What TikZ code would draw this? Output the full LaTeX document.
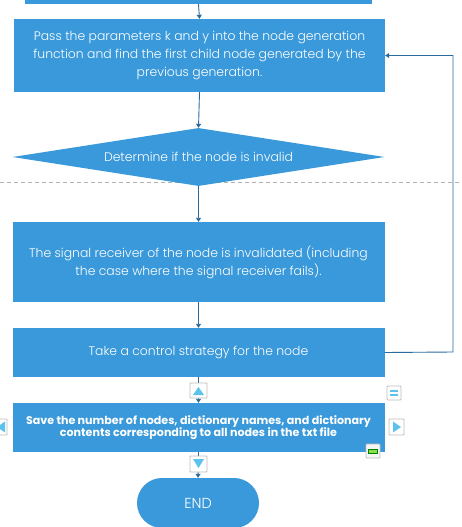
\documentclass[tikz,border=0pt]{standalone}
\usepackage{fontspec}
\setmainfont{Poppins}[UprightFont=* Light, BoldFont=* Bold]
\usetikzlibrary{arrows.meta,shapes.geometric,shapes.misc}
\definecolor{boxblue}{HTML}{3A99DA}
\definecolor{linkblue}{HTML}{2B6A9C}
\definecolor{iconblue}{HTML}{5CC3EC}
\definecolor{icongray}{HTML}{BDBDBD}
\definecolor{icongreen}{HTML}{8EE04A}
\begin{document}
\begin{tikzpicture}[x=1pt,y=-1pt,
  box/.style={draw=none,fill=boxblue,text=white,align=center,inner sep=0pt,
    font=\fontsize{12.4}{18}\selectfont},
  link/.style={draw=linkblue,line width=0.9pt,-{Triangle[length=4pt,width=5pt]}},
  btn/.style={draw=icongray,line width=0.8pt,fill=white,rounded corners=0.8pt},
  tri/.style={fill=iconblue,draw=none},
]
\useasboundingbox (0,0) rectangle (462,527);
% separator
\draw[gray!60,dashed,line width=0.7pt,dash pattern=on 4pt off 3pt] (0,182) -- (462,182);
% nodes
\node[box,minimum width=347pt,minimum height=10pt] (b1) at (198.5,-1) {};
\node[box,minimum width=371pt,minimum height=73pt] (b2) at (199.5,55.5)
  {Pass the parameters k and y into the node generation\\function and find the first child node generated by the\\previous generation.};
\node[box,diamond,aspect=6.4,minimum width=372pt,minimum height=58pt] (d) at (198.5,157)
  {Determine if the node is invalid};
\node[box,minimum width=372pt,minimum height=80pt] (b3) at (198.5,262)
  {The signal receiver of the node is invalidated (including\\the case where the signal receiver fails).};
\node[box,minimum width=372pt,minimum height=49pt] (b4) at (198.5,352.5)
  {Take a control strategy for the node};
\node[box,minimum width=372pt,minimum height=49pt,font=\bfseries\fontsize{11.1}{12.5}\selectfont] (b5) at (198.5,427.5)
  {Save the number of nodes, dictionary names, and dictionary\\contents corresponding to all nodes in the txt file};
\node[box,rounded rectangle,minimum width=122pt,minimum height=50pt,font=\fontsize{14.5}{16}\selectfont] (e) at (198,503) {END};
\coordinate (fb) at (453,352);
% connectors
\draw[link] (b1.south) -- (b2.north);
\draw[link] (b2.south) -- (d.north);
\draw[link] (d.south) -- (b3.north);
\draw[link] (b3.south) -- (b4.north);
\draw[link] (b4.south) -- (b5.north);
\draw[link] (b5.south) -- (e.north);
\draw[link] (b4.east) -- (fb) |- (b2.east);
% control icons
\draw[btn] (190,383) rectangle (207,398);
\fill[tri] (193,395) -- (204,395) -- (198.5,387) -- cycle;
\draw[btn] (190,456) rectangle (207,472);
\fill[tri] (193,459) -- (204,459) -- (198.5,468) -- cycle;
\draw[btn] (387,386) rectangle (401,400);
\fill[iconblue] (390,390) rectangle (398,392.2);
\fill[iconblue] (390,394) rectangle (398,396.2);
\draw[btn] (389,419) rectangle (404,435);
\fill[tri] (393,421.5) -- (393,432.5) -- (401,427) -- cycle;
\draw[btn] (-8,419) rectangle (7,435);
\fill[tri] (5,421.5) -- (5,432.5) -- (-3,427) -- cycle;
\draw[btn,fill=gray!8] (366,444) rectangle (380,458);
\draw[fill=icongreen,draw=green!50!black,line width=0.4pt] (368.5,449) rectangle (377.5,453);
\end{tikzpicture}
\end{document}
